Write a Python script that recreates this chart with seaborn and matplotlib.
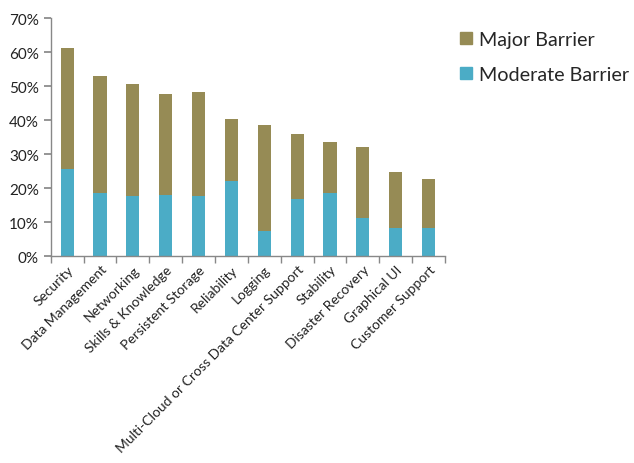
import matplotlib
matplotlib.use("Agg")
import matplotlib.pyplot as plt
import seaborn as sns
import pandas as pd
import numpy as np
from matplotlib.ticker import PercentFormatter, FixedLocator
from matplotlib.patches import Patch

categories = ["Security", "Data Management", "Networking", "Skills & Knowledge",
              "Persistent Storage", "Reliability", "Logging",
              "Multi-Cloud or Cross Data Center Support", "Stability",
              "Disaster Recovery", "Graphical UI", "Customer Support"]
moderate = [25.5, 18.4, 17.8, 18.1, 17.6, 22.0, 7.5, 16.9, 18.4, 11.3, 8.2, 8.2]
major = [35.7, 34.5, 32.7, 29.7, 30.5, 18.3, 31.1, 19.0, 15.2, 20.8, 16.6, 14.4]

major_color = "#968B55"
moderate_color = "#4BACC6"

df = pd.DataFrame({"category": categories, "moderate": moderate, "major": major})
df["total"] = df["moderate"] + df["major"]

sns.set_theme(style="white")
plt.rcParams["font.family"] = ["Lato", "DejaVu Sans"]

fig = plt.figure(figsize=(6.34, 4.64), dpi=100)
ax = fig.add_axes([0.080, 0.446, 0.622, 0.513])

sns.barplot(data=df, x="category", y="total", color=major_color, width=0.4,
            saturation=1, linewidth=0, edgecolor="none", ax=ax)
sns.barplot(data=df, x="category", y="moderate", color=moderate_color, width=0.4,
            saturation=1, linewidth=0, edgecolor="none", ax=ax)

ax.set_xlim(-0.5, len(categories) - 0.5)
ax.set_ylim(0, 70)
ax.set_yticks(np.arange(0, 71, 10))
ax.yaxis.set_major_formatter(PercentFormatter(decimals=0))
ax.set_xlabel("")
ax.set_ylabel("")

ax.set_xticks(range(len(categories)))
ax.set_xticklabels(categories, rotation=45, ha="right", rotation_mode="anchor",
                   fontsize=10, color="#222222")
ax.xaxis.set_minor_locator(FixedLocator(np.arange(-0.5, len(categories), 1.0)))
ax.tick_params(axis="x", which="major", length=0, pad=5)
ax.tick_params(axis="x", which="minor", length=5, color="#888888", direction="out", bottom=True)
ax.tick_params(axis="y", length=5, color="#888888", direction="out", left=True,
               labelsize=11, labelcolor="#222222")

for s in ["top", "right"]:
    ax.spines[s].set_visible(False)
for s in ["left", "bottom"]:
    ax.spines[s].set_color("#888888")
    ax.spines[s].set_linewidth(1)

handles = [Patch(color=major_color, label="Major Barrier"),
           Patch(color=moderate_color, label="Moderate Barrier")]
fig.legend(handles=handles, loc="upper left", bbox_to_anchor=(460 / 634, 1 - 32 / 464),
           frameon=False, fontsize=14.2, handlelength=0.6, handleheight=0.6,
           handletextpad=0.35, labelspacing=0.9, borderpad=0, borderaxespad=0)

fig.savefig("out.png", dpi=100)
